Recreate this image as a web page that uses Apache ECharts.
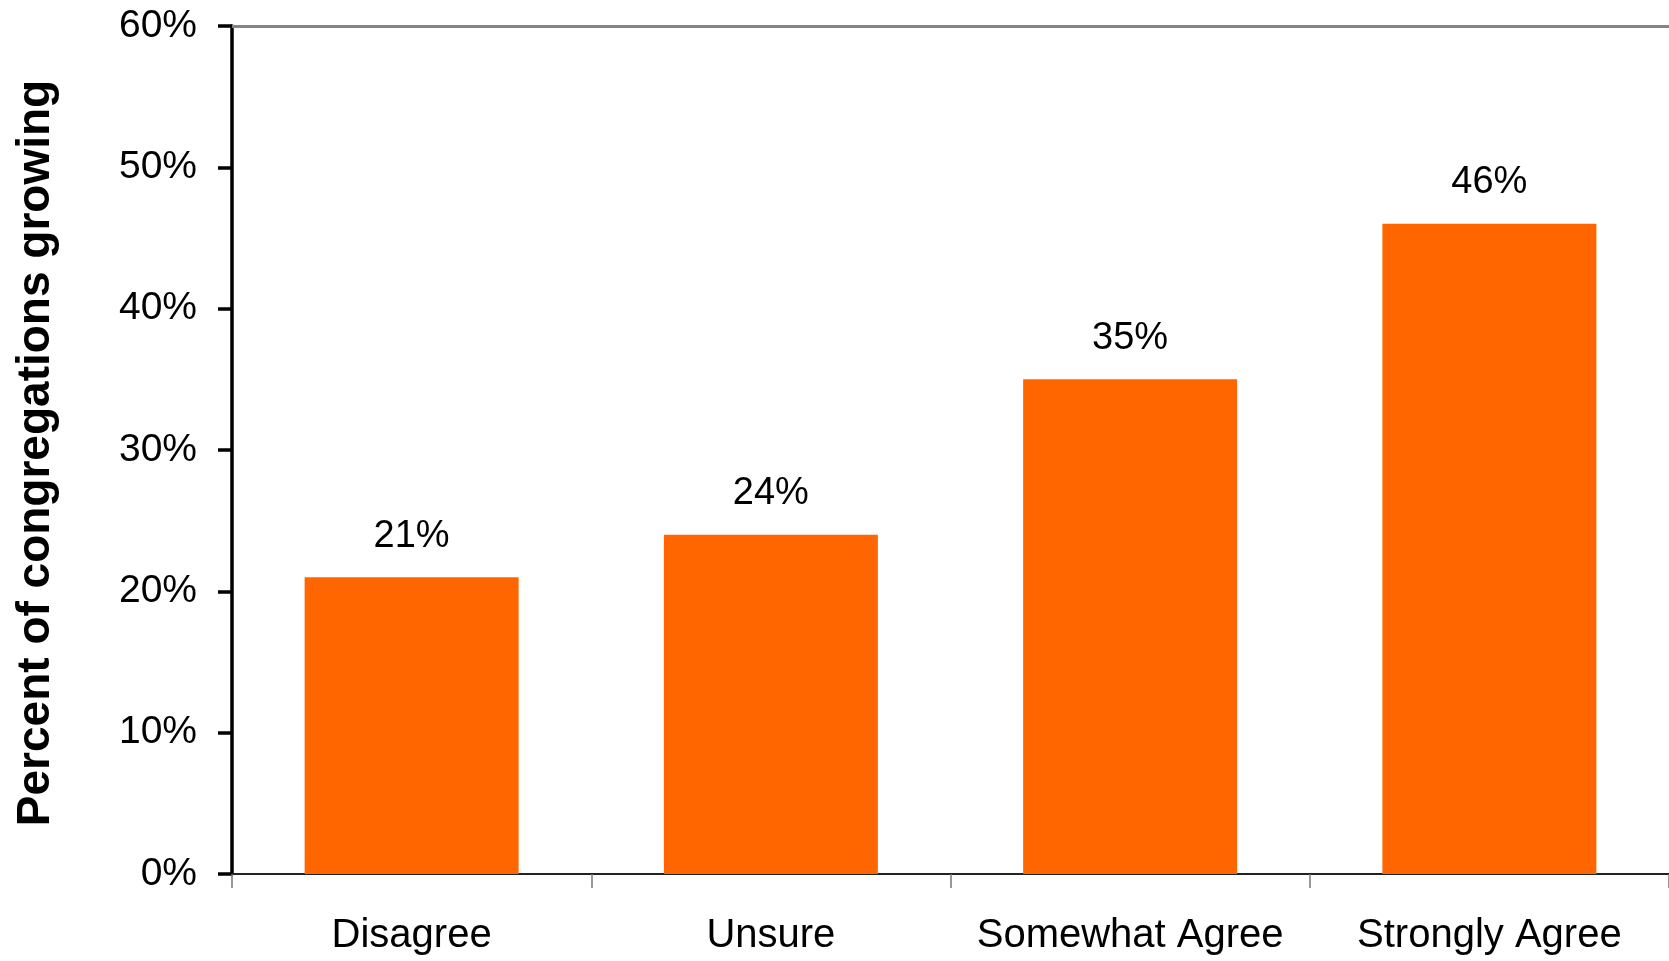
<!DOCTYPE html>
<html>
<head>
<meta charset="UTF-8">
<title>Percent of congregations growing</title>
<script src="https://cdn.jsdelivr.net/npm/echarts@6/dist/echarts.min.js"></script>
<style>
  html, body { margin: 0; padding: 0; background: #fff; }
  #chart { width: 1669px; height: 961px; }
</style>
</head>
<body>
<div id="chart"></div>
<script>
// data
var categories = ['Disagree', 'Unsure', 'Somewhat Agree', 'Strongly Agree'];
var growing = [21, 24, 35, 46];
var yTicks = [0, 10, 20, 30, 40, 50, 60];

var font = '"Liberation Sans", Arial, sans-serif';

var chart = echarts.init(document.getElementById('chart'));
chart.setOption({
  animation: false,
  grid: {
    left: 232,
    top: 26,
    bottom: 87,
    width: 1446
  },
  xAxis: [{
    type: 'category',
    data: categories,
    axisLine: { lineStyle: { color: '#222', width: 2 } },
    axisTick: { show: true, interval: 0, length: 14, lineStyle: { color: '#777', width: 1.5 } },
    axisLabel: { interval: 0, color: '#000', fontSize: 40, fontFamily: font, margin: 42 }
  }, {
    // grey line along the top of the plot
    type: 'category',
    position: 'top',
    data: categories,
    axisLine: { lineStyle: { color: '#858585', width: 3 } },
    axisTick: { show: false },
    axisLabel: { show: false }
  }],
  yAxis: {
    type: 'value',
    min: yTicks[0],
    max: yTicks[yTicks.length - 1],
    interval: 10,
    name: 'Percent of congregations growing',
    nameLocation: 'middle',
    nameGap: 173,
    nameTextStyle: { color: '#000', fontSize: 46, fontWeight: 'bold', fontFamily: font, padding: [0, 6, 0, 0] },
    axisLine: { show: true, lineStyle: { color: '#000', width: 3.5 } },
    axisTick: { show: true, length: 14, lineStyle: { color: '#000', width: 3.5 } },
    axisLabel: { color: '#000', fontSize: 39, fontFamily: font, margin: 35, formatter: '{value}%' },
    splitLine: { show: false }
  },
  series: [{
    type: 'bar',
    data: growing,
    barWidth: 214,
    itemStyle: { color: '#FF6600' },
    label: {
      show: true,
      position: 'top',
      distance: 22,
      color: '#000',
      fontSize: 38,
      fontFamily: font,
      formatter: '{c}%'
    }
  }]
});
</script>
</body>
</html>
